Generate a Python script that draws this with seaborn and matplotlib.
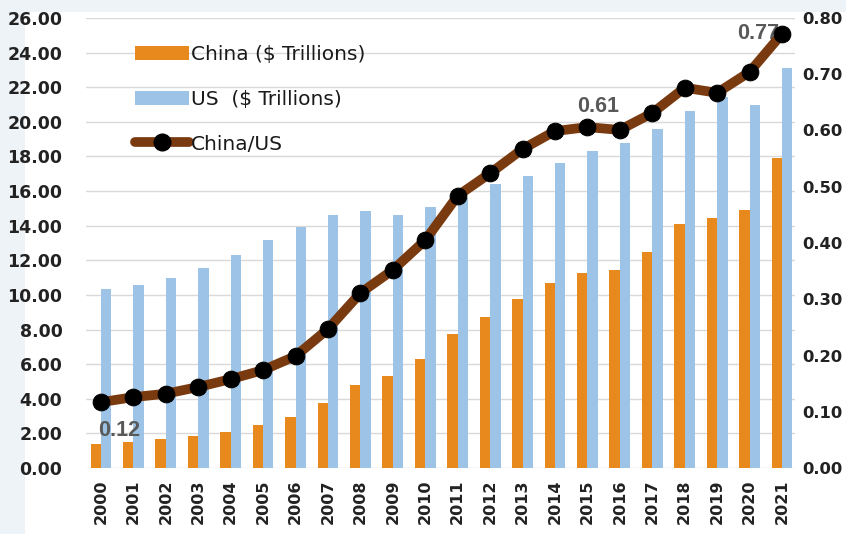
import matplotlib
matplotlib.use('Agg')
import matplotlib.pyplot as plt
import seaborn as sns
import numpy as np
import pandas as pd
from matplotlib.patches import Patch, Rectangle
from matplotlib.lines import Line2D
from matplotlib.ticker import FormatStrFormatter, MultipleLocator

years = [str(y) for y in range(2000, 2022)]
china = [1.40, 1.50, 1.70, 1.85, 2.10, 2.50, 2.95, 3.75, 4.80, 5.30, 6.30,
         7.75, 8.70, 9.75, 10.70, 11.25, 11.45, 12.50, 14.10, 14.45, 14.90, 17.90]
us = [10.35, 10.60, 11.00, 11.55, 12.30, 13.15, 13.90, 14.60, 14.85, 14.60, 15.10,
      15.60, 16.40, 16.90, 17.60, 18.30, 18.80, 19.60, 20.60, 21.45, 21.00, 23.10]
ratio = [0.117, 0.126, 0.132, 0.144, 0.158, 0.174, 0.199, 0.247, 0.311, 0.352, 0.405,
         0.484, 0.524, 0.567, 0.599, 0.606, 0.601, 0.631, 0.676, 0.667, 0.704, 0.772]
series_names = ['China ($ Trillions)', 'US  ($ Trillions)', 'China/US']
annot_labels = {0: '0.12', 15: '0.61', 21: '0.77'}

orange = '#E8891E'
blue = '#9DC3E6'
brown = '#7A3A10'

sns.set_theme(style='white')
plt.rcParams['font.family'] = ['DejaVu Sans']

fig = plt.figure(figsize=(8.46, 5.34), dpi=100, facecolor='#eef3f8')
bg = Rectangle((25 / 846, 0), 1, 522 / 534, transform=fig.transFigure,
               facecolor='white', edgecolor='none', zorder=-10)
fig.add_artist(bg)
ax = fig.add_axes([86 / 846, 66 / 534, 709 / 846, 450 / 534])
ax.set_facecolor('white')

df = pd.DataFrame({
    'Year': years * 2,
    'Value': china + us,
    'Series': [series_names[0]] * len(years) + [series_names[1]] * len(years),
})
sns.barplot(data=df, x='Year', y='Value', hue='Series', hue_order=series_names[:2],
            palette={series_names[0]: orange, series_names[1]: blue},
            width=0.64, gap=0, saturation=1, linewidth=0, ax=ax, legend=False)

ax.set_ylim(0, 26)
ax.yaxis.set_major_locator(MultipleLocator(2))
ax.yaxis.set_major_formatter(FormatStrFormatter('%.2f'))
ax.yaxis.grid(True, color='#d9d9d9', lw=1)
ax.set_axisbelow(True)
ax.set_xlabel('')
ax.set_ylabel('')
for s in ax.spines.values():
    s.set_visible(False)
ax.tick_params(axis='y', length=0, pad=17, labelsize=12.5, labelcolor='#222222')
ax.tick_params(axis='x', length=0, pad=8, labelsize=11.5, labelcolor='#222222', rotation=90)
for lbl in ax.get_xticklabels() + ax.get_yticklabels():
    lbl.set_fontweight('bold')

ax2 = ax.twinx()
sns.lineplot(x=np.arange(len(years)), y=ratio, ax=ax2, color=brown, lw=7,
             marker='o', markersize=12, markerfacecolor='black', markeredgecolor='black',
             zorder=4)
ax2.set_ylim(0, 0.8)
ax2.yaxis.set_major_locator(MultipleLocator(0.1))
ax2.yaxis.set_major_formatter(FormatStrFormatter('%.2f'))
ax2.set_ylabel('')
for s in ax2.spines.values():
    s.set_visible(False)
ax2.tick_params(axis='y', length=0, pad=5, labelsize=11.8, labelcolor='#222222')
for lbl in ax2.get_yticklabels():
    lbl.set_fontweight('bold')
ax2.grid(False)

offsets = {0: (18, -28), 15: (11, 21), 21: (-24, 0)}
for i, txt in annot_labels.items():
    ax2.annotate(txt, xy=(i, ratio[i]), xytext=offsets[i], textcoords='offset pixels',
                 ha='center', va='center', fontsize=15.5, fontweight='bold',
                 family='Liberation Sans', color='#595959', zorder=3)

ax.set_xlim(-0.46, 21.4)

handles = [Patch(facecolor=orange, edgecolor='none'),
           Patch(facecolor=blue, edgecolor='none'),
           Line2D([0], [0], color=brown, lw=7, marker='o', markersize=12,
                  markerfacecolor='black', markeredgecolor='black')]
leg = ax2.legend(handles, series_names, loc='upper left', bbox_to_anchor=(0.043, 0.98),
                 frameon=False, prop={'family': 'DejaVu Sans', 'size': 14.5},
                 handlelength=2.7, handleheight=0.75,
                 handletextpad=0.1, labelspacing=1.28, numpoints=1)
for t in leg.get_texts():
    t.set_color('#1a1a1a')

fig.savefig('out.png', dpi=100, facecolor=fig.get_facecolor())
